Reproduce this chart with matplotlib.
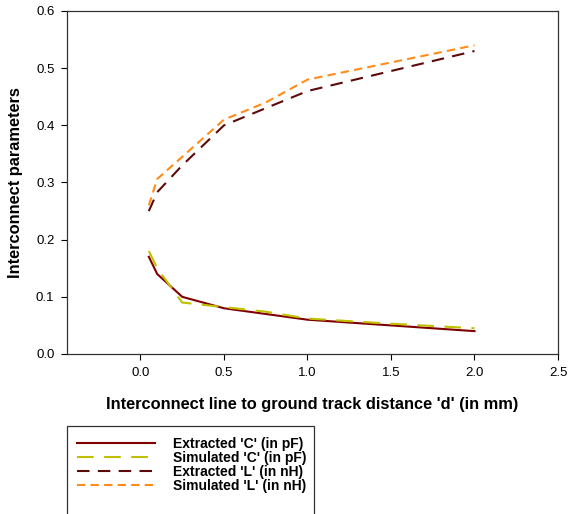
import matplotlib
matplotlib.use("Agg")
import matplotlib.pyplot as plt
from matplotlib.patches import Rectangle

plt.rcParams['font.family'] = ['Liberation Sans', 'DejaVu Sans']

x = [0.05, 0.1, 0.25, 0.5, 0.75, 1.0, 1.5, 2.0]
ext_c = [0.17, 0.14, 0.10, 0.08, 0.07, 0.06, 0.05, 0.04]
sim_c = [0.18, 0.15, 0.09, 0.082, 0.074, 0.062, 0.053, 0.045]
ext_l = [0.25, 0.283, 0.33, 0.40, 0.43, 0.46, 0.495, 0.53]
sim_l = [0.26, 0.306, 0.345, 0.41, 0.44, 0.48, 0.51, 0.54]
labels = ["Extracted 'C' (in pF)", "Simulated 'C' (in pF)",
          "Extracted 'L' (in nH)", "Simulated 'L' (in nH)"]

W, H = 569, 514
fig = plt.figure(figsize=(W/100, H/100), dpi=100)
ax = fig.add_axes([67/W, 1-354/H, (558-67)/W, (354-11)/H])

l1, = ax.plot(x, ext_c, color='#800000', lw=1.5, ls='-')
l2, = ax.plot(x, sim_c, color='#c0c000', lw=1.5, ls=(0, (8, 5)))
l3, = ax.plot(x, ext_l, color='#5c0a0a', lw=1.5, ls=(0, (6, 4)))
l4, = ax.plot(x, sim_l, color='#ff8c1a', lw=1.5, ls=(0, (4, 2.5)))

ax.set_xlim(-0.44, 2.5)
ax.set_ylim(0, 0.6)
ax.set_xticks([0.0, 0.5, 1.0, 1.5, 2.0, 2.5])
ax.set_xticklabels(['0.0', '0.5', '1.0', '1.5', '2.0', '2.5'])
ax.set_yticks([0.0, 0.1, 0.2, 0.3, 0.4, 0.5, 0.6])
ax.set_yticklabels(['0.0', '0.1', '0.2', '0.3', '0.4', '0.5', '0.6'])
ax.tick_params(labelsize=9.5, direction='out', length=4, width=0.8, pad=5)
for s in ax.spines.values():
    s.set_linewidth(0.9)
    s.set_color('#333333')

ax.set_xlabel("Interconnect line to ground track distance 'd' (in mm)",
              fontsize=11.8, fontweight='bold', labelpad=13)
ax.set_ylabel("Interconnect parameters", fontsize=11.8, fontweight='bold', labelpad=9)

# legend frame (extends past the bottom edge, as in the reference)
fig.patches.append(Rectangle((67/W, -0.05), (314-67)/W, (1-426/H)+0.05,
                             transform=fig.transFigure, fill=False,
                             edgecolor='#333333', lw=0.9, clip_on=False))
leg = fig.legend([l1, l2, l3, l4], labels, loc='upper left',
                 bbox_to_anchor=(73/W, 1-433/H), prop={'weight': 'bold', 'size': 10},
                 frameon=False, handlelength=5.6,
                 borderpad=0.3, labelspacing=0.0, handletextpad=1.3, borderaxespad=0)

fig.savefig('out.png', dpi=100)
